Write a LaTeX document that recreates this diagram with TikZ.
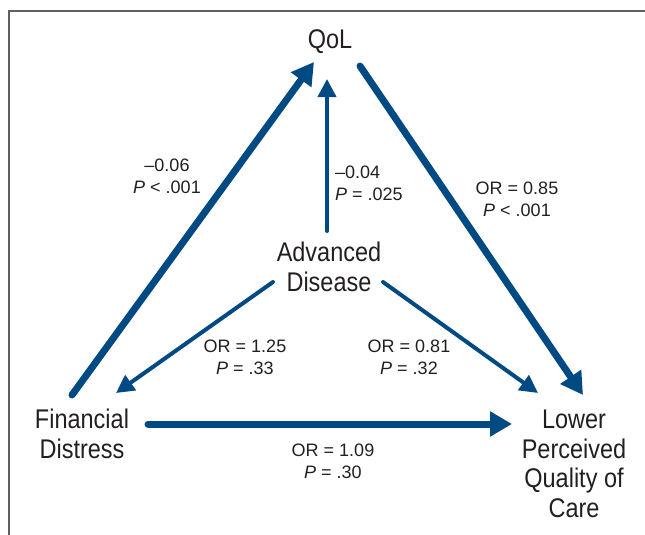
\documentclass[tikz,border=0pt]{standalone}
\usepackage{fontspec}
\setmainfont{Liberation Sans}
\newfontfamily\condfont[FakeStretch=0.87]{Liberation Sans}
\usetikzlibrary{arrows.meta}
\definecolor{pathblue}{RGB}{0,74,132}
\definecolor{framegray}{RGB}{95,95,95}
\definecolor{inkgray}{RGB}{35,31,32}
\begin{document}
\begin{tikzpicture}[x=1pt,y=-1pt,
  concept/.style={font=\condfont\fontsize{27}{29.5}\selectfont, align=center, inner sep=0pt, text=inkgray},
  stat/.style={font=\fontsize{18}{22}\selectfont, align=center, inner sep=0pt, text=inkgray},
  heavy/.style={draw=pathblue, line width=7pt, line cap=round, -{Triangle[length=22pt,width=24pt]}},
  light/.style={draw=pathblue, line width=4pt, line cap=round, -{Triangle[length=18pt,width=18pt]}},
]
\useasboundingbox (0,0) rectangle (645,535);
% partial frame: top and left edges
\draw[framegray, line width=1.5pt] (9,535) -- (9,11) -- (645,11);

% concepts
\node[concept] (qol) at (330,42) {QoL};
\node[concept] (ad)  at (329,267) {Advanced\\Disease};
\node[concept] (fd)  at (82,434) {Financial\\Distress};
\node[concept] (lq)  at (574,464) {Lower\\Perceived\\Quality of\\Care};

% paths
\draw[heavy] ([shift={(-10,-39)}]fd.center) -- ([shift={(-16,20)}]qol.center);
\draw[heavy] ([shift={(30,24)}]qol.center) -- ([shift={(9,-69)}]lq.center);
\draw[heavy] ([shift={(66,-10)}]fd.center) -- ([shift={(-62,-40)}]lq.center);
\draw[light] ([shift={(-2,-36)}]ad.center) -- ([shift={(-3,37)}]qol.center);
\draw[light] ([shift={(-56,15)}]ad.center) -- ([shift={(34,-41)}]fd.center);
\draw[light] ([shift={(54,15)}]ad.center) -- ([shift={(-36,-71)}]lq.center);

% path estimates
\node[stat] (s1) at (167,176) {\textendash0.06\\\textit{P} < .001};
\node[stat, align=left, anchor=west] (s2) at (335,183) {\textendash0.04\\\textit{P} = .025};
\node[stat] (s3) at (517,199) {OR = 0.85\\\textit{P} < .001};
\node[stat] (s4) at (245,357) {OR = 1.25\\\textit{P} = .33};
\node[stat] (s5) at (409,357) {OR = 0.81\\\textit{P} = .32};
\node[stat] (s6) at (333,461) {OR = 1.09\\\textit{P} = .30};
\end{tikzpicture}
\end{document}
